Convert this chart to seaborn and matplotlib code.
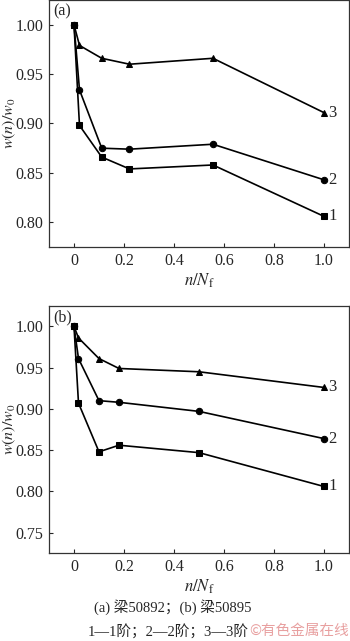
import matplotlib
matplotlib.use("Agg")
import matplotlib.pyplot as plt
import seaborn as sns
import pandas as pd

# Panel (a): beam 50892
xa = [0.0, 0.022, 0.111, 0.222, 0.556, 1.0]
a_mode1 = [1.000, 0.898, 0.866, 0.854, 0.858, 0.806]
a_mode2 = [1.000, 0.934, 0.875, 0.874, 0.879, 0.843]
a_mode3 = [1.000, 0.979, 0.966, 0.960, 0.966, 0.911]

# Panel (b): beam 50895
xb = [0.0, 0.018, 0.10, 0.18, 0.50, 1.0]
b_mode1 = [1.000, 0.907, 0.848, 0.856, 0.847, 0.806]
b_mode2 = [1.000, 0.961, 0.910, 0.908, 0.897, 0.864]
b_mode3 = [1.000, 0.986, 0.961, 0.949, 0.945, 0.926]

series_labels = ["1", "2", "3"]
xticks = [0, 0.2, 0.4, 0.6, 0.8, 1.0]
xtick_labels = ["0", "0.2", "0.4", "0.6", "0.8", "1.0"]
a_yticks = [0.80, 0.85, 0.90, 0.95, 1.00]
b_yticks = [0.75, 0.80, 0.85, 0.90, 0.95, 1.00]
caption1 = "(a) 梁50892；(b) 梁50895"
caption2 = "1—1阶；2—2阶；3—3阶"

sns.set_style("ticks")
plt.rcParams['font.family'] = ['Liberation Serif', 'Noto Sans CJK SC', 'DejaVu Sans']
plt.rcParams['mathtext.fontset'] = 'stix'

fig = plt.figure(figsize=(3.5, 6.41), dpi=100)
ax_a = fig.add_axes([0.14, 0.6147, 0.857, 0.3853])
ax_b = fig.add_axes([0.14, 0.1368, 0.857, 0.3862])

markers = ["s", "o", "^"]

def draw(ax, x, ys, ylim, yticks, tag):
    rows = []
    for lab, yv in zip(series_labels, ys):
        for xi, yi in zip(x, yv):
            rows.append({"x": xi, "y": yi, "mode": lab})
    df = pd.DataFrame(rows)
    sns.lineplot(data=df, x="x", y="y", style="mode", markers=dict(zip(series_labels, markers)),
                 dashes=False, color="black", markersize=4.6, linewidth=1.2,
                 markeredgecolor="black", legend=False, ax=ax, sort=False)
    for lab, yv in zip(series_labels, ys):
        ax.text(x[-1] + 0.018, yv[-1], lab, fontsize=12, va="center", ha="left")
    ax.set_xlim(-0.1, 1.1)
    ax.set_ylim(*ylim)
    ax.set_xticks(xticks)
    ax.set_xticklabels(xtick_labels)
    ax.set_yticks(yticks)
    ax.set_yticklabels([f"{v:.2f}" for v in yticks])
    ax.tick_params(direction="in", length=3, width=0.8, labelsize=11.5, pad=4)
    for s in ax.spines.values():
        s.set_linewidth(0.9)
        s.set_color("#333333")
    ax.set_xlabel(r"$n/N_\mathrm{f}$", fontsize=12, labelpad=2)
    ax.set_ylabel(r"$w(n)/w_0$", fontsize=11.5)
    ax.yaxis.set_label_coords(-0.105, 0.5)
    ax.text(0.015, 0.985, tag, transform=ax.transAxes, fontsize=11.5, va="top", ha="left")

draw(ax_a, xa, [a_mode1, a_mode2, a_mode3], (0.775, 1.025), a_yticks, "(a)")
draw(ax_b, xb, [b_mode1, b_mode2, b_mode3], (0.725, 1.025), b_yticks, "(b)")

fig.text(0.494, 1 - 607 / 641, caption1, fontsize=10.5, ha="center", va="center")
fig.text(0.48, 1 - 631 / 641, caption2, fontsize=10.5, ha="center", va="center")
fig.text(0.998, 1 - 631 / 641, "©有色金属在线", fontsize=10.5, ha="right", va="center",
         color="#e8a0a0", family=['Noto Sans CJK SC', 'DejaVu Sans'])

fig.savefig("out.png", dpi=100)
